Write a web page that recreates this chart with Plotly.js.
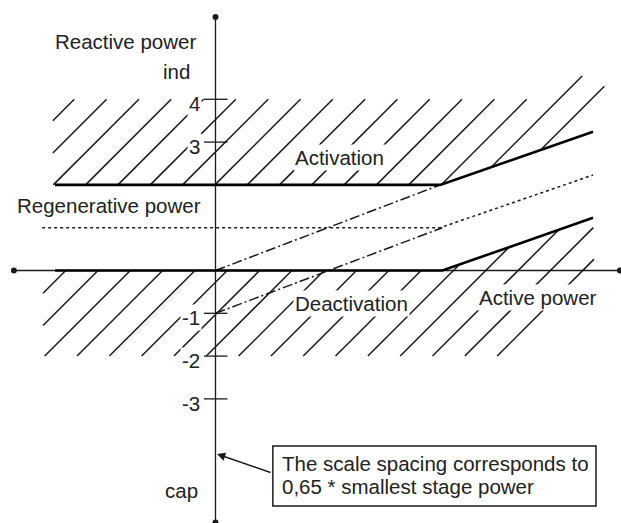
<!DOCTYPE html>
<html><head><meta charset="utf-8">
<script src="https://cdn.plot.ly/plotly-3.0.1.min.js"></script>
<style>html,body{margin:0;padding:0;background:#fff}</style>
</head><body><div id="chart" style="width:621px;height:523px"></div>
<script>
// ---- data (units = scale spacing) ----
const activationX = [-3.75, 5.25, 8.82];
const activationY = [2, 2, 3.24];
const deactivationX = [-3.75, 5.3, 8.82];
const deactivationY = [0, 0, 1.23];
const regenDottedX = [-4.05, 5.25, 8.82];
const regenDottedY = [1, 1, 2.23];
const dashDotUpperX = [0, 5.25];
const dashDotUpperY = [0, 2];
const dashDotLowerX = [0, 5.3];
const dashDotLowerY = [-1, 1];
const tickValues = [4, 3, -1, -2, -3];
const tickLabels = ['4', '3', '-1', '-2', '-3'];
const upperRegionX = [-3.8, 5.25, 8.82, 9.1, 8.55, 7.5, -3.8];
const upperRegionY = [2, 2, 3.24, 4.3, 4.55, 4, 4];
const lowerRegionX = [-4.03, 5.3, 8.82, 8.85, 6.8, -4.03];
const lowerRegionY = [0, 0, 1.23, 0.1, -2, -2];
const xAxisEnds = [-4.71, 9.45];
const yAxisEnds = [-5.89, 5.92];

// ---- hatch helpers ----
function clipLine(c, px, py) {
  const ts = [];
  for (let i = 0; i < px.length; i++) {
    const j = (i + 1) % px.length;
    const f1 = py[i] - px[i] - c, f2 = py[j] - px[j] - c;
    if ((f1 > 0) !== (f2 > 0)) {
      const s = f1 / (f1 - f2);
      ts.push(px[i] + s * (px[j] - px[i]));
    }
  }
  ts.sort((a, b) => a - b);
  const segs = [];
  for (let k = 0; k + 1 < ts.length; k += 2) {
    if (ts[k + 1] - ts[k] > 0.15) segs.push([ts[k], ts[k + 1]]);
  }
  return segs;
}
function hatch(px, py, cStart, step, n) {
  const xs = [], ys = [];
  for (let k = 0; k < n; k++) {
    const c = cStart - step * k;
    clipLine(c, px, py).forEach(s => {
      xs.push(s[0], s[1], null);
      ys.push(s[0] + c, s[1] + c, null);
    });
  }
  return {xs, ys};
}
const hu = hatch(upperRegionX, upperRegionY, 7.3, 0.755, 17);
const hl = hatch(lowerRegionX, lowerRegionY, 3.5, 0.755, 17);

const tx = [], ty = [];
tickValues.forEach(v => { tx.push(-0.27, 0.28, null); ty.push(v, v, null); });

const ink = '#1a1a1a';
const dd = '10px,3px,2px,3px';
const traces = [
  {x: hu.xs, y: hu.ys, mode: 'lines', line: {color: ink, width: 1.5}, hoverinfo: 'skip'},
  {x: hl.xs, y: hl.ys, mode: 'lines', line: {color: ink, width: 1.5}, hoverinfo: 'skip'},
  {x: regenDottedX, y: regenDottedY, mode: 'lines', line: {color: ink, width: 1.5, dash: 'dot'}},
  {x: dashDotUpperX, y: dashDotUpperY, mode: 'lines', line: {color: ink, width: 1.5, dash: dd}},
  {x: dashDotLowerX, y: dashDotLowerY, mode: 'lines', line: {color: ink, width: 1.5, dash: dd}},
  {x: xAxisEnds, y: [0, 0], mode: 'lines+markers', line: {color: ink, width: 1.3}, marker: {size: 6, color: ink}},
  {x: [0, 0], y: yAxisEnds, mode: 'lines+markers', line: {color: ink, width: 1.3}, marker: {size: 6, color: ink}},
  {x: tx, y: ty, mode: 'lines', line: {color: ink, width: 1.3}},
  {x: activationX, y: activationY, mode: 'lines', line: {color: '#000', width: 2.6}},
  {x: deactivationX, y: deactivationY, mode: 'lines', line: {color: '#000', width: 2.6}}
];

const F = {family: 'Liberation Sans, Arial, sans-serif', size: 20.5, color: '#222'};
function txt(t, x, y, xa, bg) {
  return {text: t, x: x, y: y, xref: 'x', yref: 'y', showarrow: false, xanchor: xa, yanchor: 'middle',
          font: F, bgcolor: bg ? '#fff' : 'rgba(0,0,0,0)', borderpad: 1};
}
const ann = [
  txt('Reactive power', -3.80, 5.36, 'left'),
  txt('ind', -0.90, 4.66, 'center'),
  txt('Regenerative power', -4.68, 1.51, 'left'),
  txt('Activation', 1.81, 2.63, 'left', true),
  txt('Deactivation', 1.81, -0.78, 'left', true),
  txt('Active power', 6.11, -0.62, 'left', true),
  txt('cap', -1.23, -5.13, 'left'),
  txt('The scale spacing corresponds to', 1.51, -4.50, 'left'),
  txt('0,65 * smallest stage power', 1.51, -5.04, 'left'),
  {text: '', x: 0.035, y: -4.29, xref: 'x', yref: 'y', ax: 1.32, ay: -4.73, axref: 'x', ayref: 'y',
   showarrow: true, arrowhead: 2, arrowsize: 1.1, arrowwidth: 1.5, arrowcolor: ink, standoff: 0}
];
tickValues.forEach((v, i) => ann.push(txt(tickLabels[i], -0.315, v - 0.1, 'right', true)));

const layout = {
  width: 621, height: 523, autosize: false,
  margin: {l: 0, r: 0, t: 0, b: 0},
  paper_bgcolor: '#fff', plot_bgcolor: '#fff',
  showlegend: false,
  xaxis: {range: [-5.035, 9.474], visible: false, fixedrange: true},
  yaxis: {range: [-5.9, 6.32], visible: false, fixedrange: true},
  shapes: [{type: 'rect', xref: 'x', yref: 'y', x0: 1.34, x1: 8.89, y0: -4.10, y1: -5.50,
            line: {color: ink, width: 1.5}, fillcolor: 'rgba(0,0,0,0)'}],
  annotations: ann
};
Plotly.newPlot('chart', traces, layout, {displayModeBar: false, staticPlot: true});
</script></body></html>
